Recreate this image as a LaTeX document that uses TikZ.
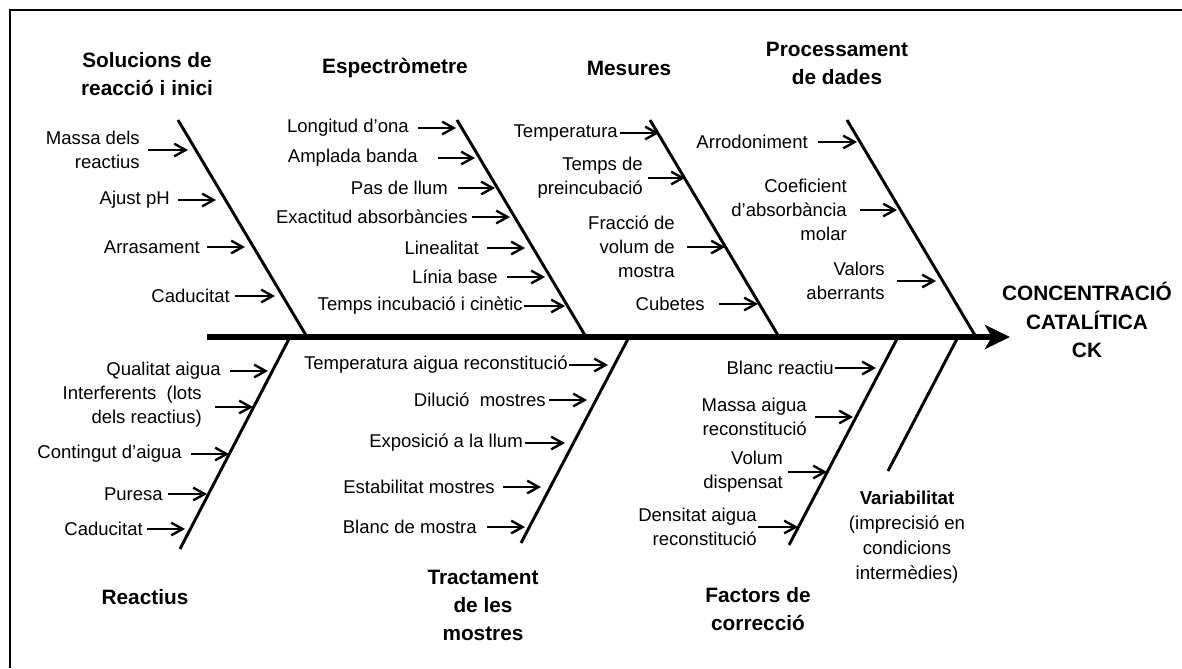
\documentclass[tikz,border=0pt]{standalone}
\usepackage{fontspec}
\setmainfont{Liberation Sans}
\usetikzlibrary{arrows.meta}
\newcommand\causeitem[6]{%
  \node[lab] (#1) at (#2,#3) {#4};
  \coordinate (#1st) at (#5,#3);
  \coordinate (#1tip) at (#6,#3);
  \draw[labarr] (#1.east -| #1st) -- (#1tip);
}
\begin{document}
\begin{tikzpicture}[x=0.75pt,y=-0.75pt,
  lab/.style={font=\fontsize{13.9}{18}\selectfont, align=right, inner sep=0pt, anchor=east},
  cathead/.style={font=\bfseries\fontsize{15.6}{21}\selectfont, align=center, inner sep=0pt},
  bone/.style={line width=2.2pt},
  spine/.style={line width=4.2pt, -{Stealth[length=18.75pt,width=18pt,inset=5pt]}},
  labarr/.style={line width=1.8pt, -{Straight Barb[length=8.5pt,width=9.5pt]}},
  framel/.style={line width=2pt}]
\useasboundingbox (0,0) rectangle (1182,668);
% frame
\coordinate (fr0) at (10,10);
\coordinate (fr1) at (10,668);
\coordinate (fr2) at (1182,10);
\draw[framel] (fr1) -- (fr0) -- (fr2);
% spine
\coordinate (spS) at (207,337);
\coordinate (spE) at (1010,337);
\draw[spine] (spS) -- (spE);
% branches
\coordinate (u1a) at (178,120); \coordinate (u1b) at (307,337);
\coordinate (u2a) at (457,120); \coordinate (u2b) at (586,337);
\coordinate (u3a) at (650,120); \coordinate (u3b) at (779,337);
\coordinate (u4a) at (847,120); \coordinate (u4b) at (976,337);
\coordinate (l1a) at (290,337); \coordinate (l1b) at (180,549);
\coordinate (l2a) at (629,337); \coordinate (l2b) at (521,543);
\coordinate (l3a) at (898,337); \coordinate (l3b) at (789,545);
\coordinate (l4a) at (958,337); \coordinate (l4b) at (888,471);
\foreach \a/\b in {u1a/u1b,u2a/u2b,u3a/u3b,u4a/u4b,l1a/l1b,l2a/l2b,l3a/l3b,l4a/l4b}
  \draw[bone] (\a) -- (\b);
% headings
\node[cathead] (hSol) at (147,74) {Solucions de\\reacció i inici};
\node[cathead] (hEsp) at (395,68) {Espectròmetre};
\node[cathead] (hMes) at (629,68) {Mesures};
\node[cathead] (hPro) at (837,63) {Processament\\de dades};
\node[cathead] (hRea) at (145,597) {Reactius};
\node[cathead] (hTra) at (483,605) {Tractament\\de les\\mostres};
\node[cathead] (hFac) at (758,609) {Factors de\\correcció};
\node[align=center, inner sep=0pt, font=\fontsize{14}{18.75}\selectfont] (hVar) at (907,537)
  {\textbf{Variabilitat}\\(imprecisió en\\condicions\\intermèdies)};
\node[cathead, font=\bfseries\fontsize{15.6}{21.4}\selectfont] (effect) at (1087,320)
  {CONCENTRACIÓ\\CATALÍTICA\\CK};
% Solucions
\causeitem{s1}{140}{150}{Massa dels\\reactius}{148}{188}
\causeitem{s2}{170}{200}{Ajust pH}{178}{216}
\causeitem{s3}{200}{247}{Arrasament}{207}{245}
\causeitem{s4}{230}{296}{Caducitat}{235}{275}
% Espectrometre
\causeitem{e1}{409}{128}{Longitud d’ona}{418}{456}
\causeitem{e2}{418}{158}{Amplada banda}{438}{475}
\causeitem{e3}{448}{188}{Pas de llum}{458}{495}
\causeitem{e4}{468}{217}{Exactitud absorbàncies}{472}{510}
\causeitem{e5}{479}{248}{Linealitat}{487}{525}
\causeitem{e6}{498}{277}{Línia base}{507}{545}
\causeitem{e7}{523}{306}{Temps incubació i cinètic}{524}{565}
% Mesures
\causeitem{m1}{618}{133}{Temperatura}{620}{659}
\causeitem{m2}{643}{178}{Temps de\\preincubació}{648}{685}
\causeitem{m3}{675}{247}{Fracció de\\volum de\\mostra}{687}{725}
\causeitem{m4}{705}{304}{Cubetes}{719}{758}
% Processament
\causeitem{p1}{808}{142}{Arrodoniment}{818}{857}
\causeitem{p2}{847}{210}{Coeficient\\d’absorbància\\molar}{860}{897}
\causeitem{p3}{885}{281}{Valors\\aberrants}{897}{936}
% Reactius
\causeitem{r1}{221}{371}{Qualitat aigua}{230}{268}
\causeitem{r2}{202}{407}{Interferents~~(lots\\dels reactius)}{215}{253}
\causeitem{r3}{182}{454}{Contingut d’aigua}{191}{229}
\causeitem{r4}{163}{494}{Puresa}{168}{207}
\causeitem{r5}{143}{529}{Caducitat}{147}{185}
% Tractament
\causeitem{t1}{568}{365}{Temperatura aigua reconstitució}{569}{608}
\causeitem{t2}{546}{400}{Dilució~~mostres}{549}{587}
\causeitem{t3}{523}{443}{Exposició a la llum}{525}{565}
\causeitem{t4}{495}{487}{Estabilitat mostres}{503}{541}
\causeitem{t5}{477}{527}{Blanc de mostra}{487}{525}
% Factors
\causeitem{f1}{834}{368}{Blanc reactiu}{835}{876}
\causeitem{f2}{807}{417}{Massa aigua\\reconstitució}{815}{853}
\causeitem{f3}{783}{472}{Volum\\dispensat}{788}{827}
\causeitem{f4}{757}{527}{Densitat aigua\\reconstitució}{758}{798}
\end{tikzpicture}
\end{document}
